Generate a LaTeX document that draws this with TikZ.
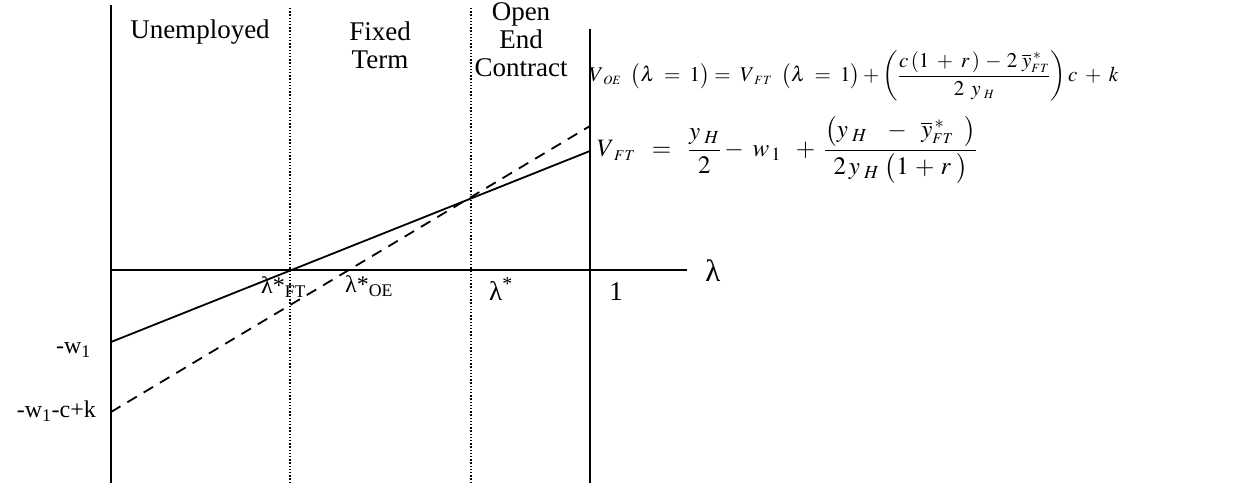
\documentclass[tikz,border=0pt]{standalone}
\usepackage{mathptmx}
\usepackage[no-math]{fontspec}
\setmainfont{Liberation Serif}
\begin{document}
\begin{tikzpicture}[x=1pt,y=-1pt,
  axisline/.style={line width=1.8pt},
  sepline/.style={line width=1.4pt, dash pattern=on 1.4pt off 1.8pt},
  solidcurve/.style={line width=1.8pt},
  dashcurve/.style={line width=1.8pt, dash pattern=on 11pt off 8pt},
  lbl/.style={font=\fontsize{27}{28}\selectfont, inner sep=0pt, align=center},
  tick/.style={font=\fontsize{24}{28}\selectfont, inner sep=0pt},
  eqn/.style={inner sep=0pt, anchor=west}
]
\useasboundingbox (0,0) rectangle (1240,483);
% coordinates
\coordinate (ytop) at (111,5);
\coordinate (ybot) at (111,483);
\coordinate (xl) at (111,270);
\coordinate (xr) at (687,270);
\coordinate (d1t) at (290,8);
\coordinate (d1b) at (290,483);
\coordinate (d2t) at (471,8);
\coordinate (d2b) at (471,483);
\coordinate (ot) at (590,29);
\coordinate (ob) at (590,483);
\coordinate (fts) at (111,342);
\coordinate (fte) at (590,151);
\coordinate (oes) at (111,412);
\coordinate (oee) at (590,126);
% axes and separators
\draw[axisline] (ytop) -- (ybot);
\draw[axisline] (xl) -- (xr);
\draw[axisline] (ot) -- (ob);
\draw[sepline] (d1t) -- (d1b);
\draw[sepline] (d2t) -- (d2b);
% value lines
\draw[solidcurve] (fts) -- (fte);
\draw[dashcurve] (oes) -- (oee);
% region labels
\node[lbl] (unemp) at (200,32) {Unemployed};
\node[lbl] (fixed) at (380,45) {Fixed\\Term};
\node[lbl] (open) at (521,40) {Open\\End\\Contract};
% axis labels
\node[lbl, font=\fontsize{31}{34}\selectfont] (lam) at (713,271) {λ};
\node[tick, anchor=west] (lft) at (261,287) {λ*\textsubscript{FT}};
\node[tick, anchor=west] (loe) at (345,286) {λ*\textsubscript{OE}};
\node[lbl, anchor=west] (lstar) at (489,289) {λ\textsuperscript{*}};
\node[lbl] (one) at (616,292) {1};
\node[tick, anchor=east] (w1) at (91,350) {-w\textsubscript{1}};
\node[tick, anchor=east] (w1ck) at (96,411) {-w\textsubscript{1}-c+k};
% equations
\node[eqn, font=\fontsize{21}{25}\selectfont] (eqoe) at (589,76)
  {$V_{\;\scriptscriptstyle OE}\;\;\bigl(\lambda\;=\;1\bigr)=\;V_{\;\scriptscriptstyle FT}\;\;\bigl(\lambda\;=\;1\bigr)+\left(\displaystyle\frac{c\,(1\;+\;r\,)\,-\,2\;\overline{y}^{\,*}_{\scriptscriptstyle FT}}{2\;\,y_{\;\scriptscriptstyle H}}\right)c\;+\;k$};
\node[eqn, font=\fontsize{25}{29}\selectfont] (eqft) at (597,150)
  {$\displaystyle V_{\;\scriptscriptstyle FT}\;\;=\;\;\frac{y_{\;H}}{2}-\;w_{\,1}\;\;+\;\frac{\bigl(y_{\;H}\;\;\;-\;\;\overline{y}^{\,*}_{\scriptscriptstyle FT}\;\;\bigr)}{2\,y_{\;H}\;\bigl(1\,+\,r\;\bigr)}$};
\end{tikzpicture}
\end{document}
